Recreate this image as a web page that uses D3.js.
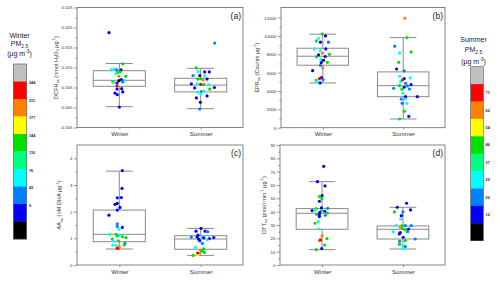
<!DOCTYPE html>
<html>
<head>
<meta charset="utf-8">
<script src="https://cdn.jsdelivr.net/npm/d3@7"></script>
<style>
  body { margin: 0; background: #fff; }
  svg { display: block; }
</style>
</head>
<body>
<svg id="chart" width="500" height="281"></svg>
<script>
// categories and colour classes
const seasons = ['Winter', 'Summer'];
// index 0 = lowest PM2.5 class ... 9 = above top
const pmColors = ['#000000', '#0000ff', '#0080ff', '#00ffff', '#00ff80', '#00e000', '#ffff00', '#ff8000', '#ff0000', '#c0c0c0'];
const winterPmTicks = ['244', '211', '177', '144', '110', '76', '43', '9'];
const summerPmTicks = ['71', '62', '54', '46', '37', '29', '20', '12'];

// y tick values
const dcfhTicks = [-0.005, 0, 0.005, 0.01, 0.015, 0.02, 0.025];
const eprTicks = [0, 2000, 4000, 6000, 8000, 10000, 12000];
const aaTicks = [0, 1, 2, 3, 4];
const dttTicks = [0, 10, 20, 30, 40, 50, 60, 70, 80, 90];

// box summaries: [low whisker, q1, median, q3, high whisker] for winter, summer
const dcfhBoxes = [[0.0002, 0.0053, 0.0068, 0.0092, 0.0110], [-0.0003, 0.0039, 0.0056, 0.0073, 0.0098]];
const eprBoxes = [[4880, 6810, 7790, 8660, 10190], [950, 3380, 4580, 6080, 9820]];
const aaBoxes = [[0.60, 0.875, 1.15, 2.06, 3.52], [0.36, 0.59, 0.975, 1.10, 1.37]];
const dttBoxes = [[11.5, 26.8, 38.8, 42.3, 62.5], [12.0, 19.5, 26.8, 29.3, 43.3]];

// samples: [jitter offset from category, value, PM2.5 colour class]
const dcfhWinter = [
  [-0.127, 0.0187, 1], [0.042, 0.0109, 5], [-0.061, 0.0096, 3], [-0.098, 0.0094, 3], [-0.032, 0.0094, 2],
  [0.021, 0.0094, 1], [-0.020, 0.0088, 5], [0.005, 0.0089, 5], [-0.041, 0.0084, 3], [-0.004, 0.0078, 7],
  [0.079, 0.0078, 5], [-0.081, 0.0065, 5], [-0.071, 0.0063, 4], [0.061, 0.0068, 3], [0.025, 0.0070, 1],
  [-0.028, 0.0061, 1], [0.042, 0.0064, 2], [-0.004, 0.0067, 0], [-0.028, 0.0054, 8], [-0.028, 0.0046, 1],
  [0.029, 0.0047, 1], [0.042, 0.0039, 1], [-0.053, 0.0036, 1], [-0.025, 0.0032, 1], [0.000, 0.0001, 1]
];
const dcfhSummer = [
  [0.172, 0.0161, 2], [-0.053, 0.0099, 5], [-0.031, 0.0090, 3], [0.049, 0.0089, 1], [0.106, 0.0089, 1],
  [-0.094, 0.0080, 2], [-0.012, 0.0080, 1], [0.049, 0.0079, 3], [-0.037, 0.0071, 5], [0.000, 0.0072, 5],
  [0.029, 0.0069, 7], [0.078, 0.0071, 1], [-0.115, 0.0059, 1], [-0.041, 0.0059, 3], [0.037, 0.0057, 5],
  [0.098, 0.0057, 3], [0.000, 0.0058, 8], [-0.074, 0.0049, 1], [0.111, 0.0046, 5], [0.169, 0.0050, 1],
  [-0.037, 0.0038, 3], [0.008, 0.0040, 2], [0.037, 0.0041, 3], [0.000, 0.0034, 3], [0.078, 0.0029, 1],
  [-0.053, 0.0024, 1], [-0.004, 0.0013, 1], [-0.012, -0.0004, 2]
];
const eprWinter = [
  [-0.008, 10220, 5], [0.033, 10000, 1], [-0.053, 9750, 3], [-0.082, 9460, 5], [-0.029, 9320, 1],
  [0.070, 9320, 2], [-0.106, 8590, 3], [-0.033, 8400, 3], [0.037, 8590, 1], [-0.004, 8120, 7],
  [-0.053, 7930, 1], [0.082, 8000, 5], [0.029, 7750, 1], [-0.078, 7710, 5], [-0.025, 7460, 3],
  [0.057, 7130, 5], [-0.020, 7090, 1], [0.008, 7350, 0], [-0.029, 6800, 2], [0.000, 6510, 7],
  [-0.127, 6220, 1], [-0.016, 5460, 1], [0.004, 5240, 2], [-0.082, 5170, 5], [-0.070, 5020, 3],
  [-0.033, 4880, 1], [-0.041, 5350, 8]
];
const eprSummer = [
  [0.020, 11940, 7], [0.045, 9820, 5], [0.098, 8260, 5], [-0.106, 8880, 2], [-0.045, 8150, 3],
  [-0.057, 7130, 5], [-0.082, 6400, 1], [0.012, 6190, 2], [-0.045, 5610, 3], [0.086, 5420, 3],
  [0.012, 5350, 1], [-0.033, 5020, 3], [0.029, 4840, 2], [0.098, 4690, 1], [-0.045, 4580, 5],
  [0.053, 4550, 2], [-0.119, 4300, 2], [0.012, 4410, 1], [0.078, 4220, 2], [-0.016, 4190, 5],
  [-0.004, 3750, 3], [0.176, 3380, 1], [0.029, 3380, 1], [-0.025, 3130, 2], [0.025, 3130, 3],
  [-0.012, 2660, 2], [0.045, 2660, 3], [0.016, 1790, 5], [0.070, 1240, 1], [-0.045, 950, 5],
  [-0.008, 5200, 8]
];
const aaWinter = [
  [0.037, 3.54, 1], [0.033, 2.87, 1], [-0.025, 2.52, 1], [0.025, 2.53, 1], [-0.025, 2.31, 1],
  [-0.053, 2.27, 1], [0.008, 2.16, 1], [-0.025, 2.06, 1], [-0.127, 1.87, 1], [-0.025, 1.54, 2],
  [-0.025, 1.44, 2], [0.037, 1.41, 1], [-0.004, 1.34, 3], [-0.119, 1.15, 3], [-0.041, 1.15, 5],
  [0.008, 1.12, 3], [-0.025, 1.09, 5], [0.041, 1.06, 5], [0.082, 1.03, 5], [-0.086, 0.975, 5],
  [-0.012, 0.91, 5], [-0.074, 0.90, 3], [0.070, 0.81, 2], [-0.082, 0.75, 3], [-0.041, 0.73, 3],
  [0.061, 0.75, 5], [0.000, 0.69, 7], [-0.004, 0.61, 7], [-0.025, 0.62, 8]
];
const aaSummer = [
  [0.004, 1.37, 1], [-0.057, 1.27, 1], [0.053, 1.27, 1], [0.086, 1.25, 2], [-0.115, 1.04, 2],
  [-0.033, 1.12, 1], [-0.045, 1.05, 1], [0.016, 1.05, 3], [0.037, 1.02, 1], [0.106, 0.99, 1],
  [0.160, 1.03, 1], [-0.025, 0.97, 1], [-0.012, 0.91, 1], [0.078, 0.95, 3], [0.020, 0.81, 2],
  [-0.066, 0.66, 3], [0.037, 0.61, 5], [-0.004, 0.56, 7], [0.016, 0.52, 5], [-0.025, 0.44, 7],
  [-0.037, 0.38, 6], [-0.094, 0.36, 5], [0.045, 0.47, 5], [-0.037, 0.45, 8]
];
const dttWinter = [
  [0.020, 74.0, 1], [-0.057, 62.5, 1], [0.037, 59.3, 1], [0.000, 52.0, 1], [-0.033, 51.3, 5],
  [-0.004, 49.8, 5], [-0.033, 47.8, 1], [-0.008, 42.8, 1], [0.070, 42.5, 2], [-0.074, 42.3, 5],
  [-0.123, 40.8, 1], [-0.008, 40.8, 5], [0.033, 40.3, 1], [-0.086, 41.3, 3], [-0.029, 39.3, 1],
  [0.066, 39.0, 5], [-0.066, 38.0, 5], [-0.033, 37.8, 1], [0.041, 37.3, 2], [-0.033, 36.3, 1],
  [-0.045, 32.5, 3], [-0.086, 31.3, 5], [-0.037, 27.0, 3], [0.000, 21.8, 7], [0.061, 19.8, 5],
  [-0.033, 18.3, 7], [-0.020, 18.8, 8], [0.033, 15.0, 5], [-0.004, 12.3, 1], [-0.074, 11.5, 5]
];
const dttSummer = [
  [0.045, 46.3, 1], [-0.070, 43.3, 1], [0.094, 41.3, 1], [-0.106, 39.8, 5], [0.000, 39.8, 2],
  [-0.020, 37.0, 1], [-0.029, 34.5, 3], [-0.012, 29.5, 5], [-0.082, 29.8, 3], [0.029, 29.5, 2],
  [0.102, 29.5, 2], [-0.033, 28.3, 7], [-0.004, 27.3, 5], [0.070, 27.0, 1], [0.029, 26.5, 5],
  [0.057, 25.0, 2], [-0.123, 25.0, 3], [-0.033, 24.3, 1], [-0.045, 23.3, 1], [0.004, 20.8, 1],
  [0.152, 19.5, 2], [0.029, 18.3, 5], [-0.041, 17.8, 2], [-0.045, 15.8, 7], [0.004, 14.5, 3],
  [0.029, 13.8, 2], [0.004, 12.5, 3], [-0.041, 15.5, 5]
];

const FONT = '"Liberation Sans", Arial, sans-serif';
const FRAME_COLOR = '#666';
const BOX_COLOR = '#8a8a8a';
const BOX_WIDTH = 0.64;
const CAP_WIDTH = 0.33;
const POINT_R = 1.6;

const svg = d3.select('#chart');

// append rich text made of [text, 'sub' | 'sup' | undefined] parts
function richText(sel, parts, size) {
  let shift = 0;
  parts.forEach(([t, mode]) => {
    const target = mode === 'sub' ? size * 0.3 : mode === 'sup' ? -size * 0.4 : 0;
    sel.append('tspan')
      .attr('dy', target - shift)
      .attr('font-size', mode ? size * 0.7 : size)
      .text(t);
    shift = target;
  });
}

const panels = [
  {
    label: '(a)', left: 77, right: 243, top: 7.5, bottom: 127.5,
    domain: [-0.005, 0.025], ticks: dcfhTicks, fmt: (v) => v.toFixed(3),
    boxes: dcfhBoxes, points: [dcfhWinter, dcfhSummer], titleX: 57.5,
    title: [['DCFH'], ['ox', 'sub'], [' (nmol H'], ['2', 'sub'], ['O'], ['2', 'sub'], [' \u03bcg'], ['-1', 'sup'], [')']]
  },
  {
    label: '(b)', left: 281, right: 445, top: 7.5, bottom: 127.7,
    domain: [0, 13100], ticks: eprTicks, fmt: (v) => String(v),
    boxes: eprBoxes, points: [eprWinter, eprSummer], titleX: 258.5,
    title: [['EPR'], ['ox', 'sub'], [' (Counts \u03bcg'], ['-1', 'sup'], [')']]
  },
  {
    label: '(c)', left: 77, right: 243, top: 145, bottom: 265,
    domain: [0, 4.5], ticks: aaTicks, fmt: (v) => String(v),
    boxes: aaBoxes, points: [aaWinter, aaSummer], titleX: 61,
    title: [['AA'], ['ox', 'sub'], [' (nM DHA \u03bcg'], ['-1', 'sup'], [')']]
  },
  {
    label: '(d)', left: 280, right: 445, top: 145, bottom: 265,
    domain: [0, 90], ticks: dttTicks, fmt: (v) => String(v),
    boxes: dttBoxes, points: [dttWinter, dttSummer], titleX: 265.5,
    title: [['DTT'], ['ox', 'sub'], [' (pmol min'], ['-1', 'sup'], [' \u03bcg'], ['-1', 'sup'], [')']]
  }
];

panels.forEach((p) => {
  const g = svg.append('g');
  const x = d3.scaleLinear().domain([0.48, 2.52]).range([p.left, p.right]);
  const y = d3.scaleLinear().domain(p.domain).range([p.bottom, p.top]);
  const minor = p.ticks.slice(1).map((t, i) => (t + p.ticks[i]) / 2);

  // frame
  g.append('rect')
    .attr('x', p.left).attr('y', p.top)
    .attr('width', p.right - p.left).attr('height', p.bottom - p.top)
    .attr('fill', 'none').attr('stroke', FRAME_COLOR).attr('stroke-width', 0.8);

  // axes
  const yAxis = g.append('g')
    .attr('transform', `translate(${p.left},0)`)
    .call(d3.axisLeft(y).tickValues(p.ticks).tickFormat(p.fmt).tickSize(3).tickSizeOuter(0).tickPadding(1.5));
  g.append('g')
    .attr('transform', `translate(${p.left},0)`)
    .call(d3.axisLeft(y).tickValues(minor).tickFormat('').tickSize(1.6).tickSizeOuter(0));
  const xAxis = g.append('g')
    .attr('transform', `translate(0,${p.bottom})`)
    .call(d3.axisBottom(x).tickValues([1, 2]).tickFormat((d) => seasons[d - 1]).tickSize(2).tickSizeOuter(0).tickPadding(2.5));
  g.selectAll('.domain').remove();
  g.selectAll('.tick line').attr('stroke', FRAME_COLOR).attr('stroke-width', 0.7);
  yAxis.selectAll('text').attr('font-family', FONT).attr('font-size', 4.4).attr('fill', '#333');
  xAxis.selectAll('text').attr('font-family', FONT).attr('font-size', 6).attr('fill', '#333');

  // y title
  const title = g.append('text')
    .attr('transform', `translate(${p.titleX},${(p.top + p.bottom) / 2}) rotate(-90)`)
    .attr('text-anchor', 'middle')
    .attr('font-family', FONT)
    .attr('fill', '#333');
  richText(title, p.title, 5.6);

  // panel label
  g.append('text')
    .attr('x', p.right - 2).attr('y', p.top + 11)
    .attr('text-anchor', 'end')
    .attr('font-family', FONT).attr('font-size', 8.5).attr('fill', '#222')
    .text(p.label);

  // boxes and whiskers
  p.boxes.forEach((b, i) => {
    const c = i + 1;
    const [lo, q1, med, q3, hi] = b;
    const bg = g.append('g')
      .attr('stroke', BOX_COLOR).attr('stroke-width', 1).attr('fill', 'none');
    bg.append('line')
      .attr('x1', x(c)).attr('x2', x(c)).attr('y1', y(hi)).attr('y2', y(q3));
    bg.append('line')
      .attr('x1', x(c)).attr('x2', x(c)).attr('y1', y(q1)).attr('y2', y(lo));
    bg.append('rect')
      .attr('x', x(c - BOX_WIDTH / 2)).attr('width', x(c + BOX_WIDTH / 2) - x(c - BOX_WIDTH / 2))
      .attr('y', y(q3)).attr('height', y(q1) - y(q3));
    bg.append('line')
      .attr('x1', x(c - BOX_WIDTH / 2)).attr('x2', x(c + BOX_WIDTH / 2)).attr('y1', y(med)).attr('y2', y(med));
    [lo, hi].forEach((v) => {
      bg.append('line')
        .attr('x1', x(c - CAP_WIDTH / 2)).attr('x2', x(c + CAP_WIDTH / 2)).attr('y1', y(v)).attr('y2', y(v));
    });
  });

  // samples
  p.points.forEach((pts, i) => {
    g.append('g').selectAll('circle')
      .data(pts)
      .join('circle')
      .attr('cx', (d) => x(i + 1 + d[0]))
      .attr('cy', (d) => y(d[1]))
      .attr('r', POINT_R)
      .attr('fill', (d) => pmColors[d[2]]);
  });
});

// PM2.5 colour bars
function colorBar(cfg) {
  const g = svg.append('g');
  const segs = d3.range(pmColors.length).map((i) => pmColors.length - 1 - i);
  const band = d3.scaleBand().domain(d3.range(segs.length)).range([cfg.top, cfg.bottom]);

  g.selectAll('rect.seg')
    .data(segs)
    .join('rect')
    .attr('class', 'seg')
    .attr('x', cfg.x).attr('width', cfg.width)
    .attr('y', (d, i) => band(i)).attr('height', band.bandwidth() + 0.3)
    .attr('fill', (d) => pmColors[d]);
  g.append('rect')
    .attr('x', cfg.x).attr('y', cfg.top)
    .attr('width', cfg.width).attr('height', cfg.bottom - cfg.top)
    .attr('fill', 'none').attr('stroke', '#555').attr('stroke-width', 0.6);

  g.selectAll('text.tk')
    .data(cfg.ticks)
    .join('text')
    .attr('class', 'tk')
    .attr('x', cfg.x + cfg.width + 2.3)
    .attr('y', (d, i) => band(i + 1) + cfg.labelShift)
    .attr('font-family', FONT).attr('font-size', 3.8).attr('font-weight', 'bold').attr('fill', '#222')
    .text((d) => d);

  const t1 = g.append('text').attr('x', cfg.titleX).attr('y', cfg.titleY[0])
    .attr('text-anchor', 'middle').attr('font-family', FONT).attr('fill', '#222');
  richText(t1, [[cfg.season]], 7);
  const t2 = g.append('text').attr('x', cfg.titleX).attr('y', cfg.titleY[1])
    .attr('text-anchor', 'middle').attr('font-family', FONT).attr('fill', '#222');
  richText(t2, [['PM'], ['2.5', 'sub']], 7);
  const t3 = g.append('text').attr('x', cfg.titleX).attr('y', cfg.titleY[2])
    .attr('text-anchor', 'middle').attr('font-family', FONT).attr('fill', '#222');
  richText(t3, [['(\u03bcg m'], ['-3', 'sup'], [')']], 7);
}

colorBar({
  season: 'Winter', x: 13.3, width: 13.4, top: 64, bottom: 239,
  ticks: winterPmTicks, labelShift: 2.5, titleX: 19.5, titleY: [37.5, 46, 56]
});
colorBar({
  season: 'Summer', x: 470.7, width: 12.6, top: 66.7, bottom: 240.7,
  ticks: summerPmTicks, labelShift: 17.4 / 2 + 1.3, titleX: 473.5, titleY: [42, 52, 63.5]
});
</script>
</body>
</html>
